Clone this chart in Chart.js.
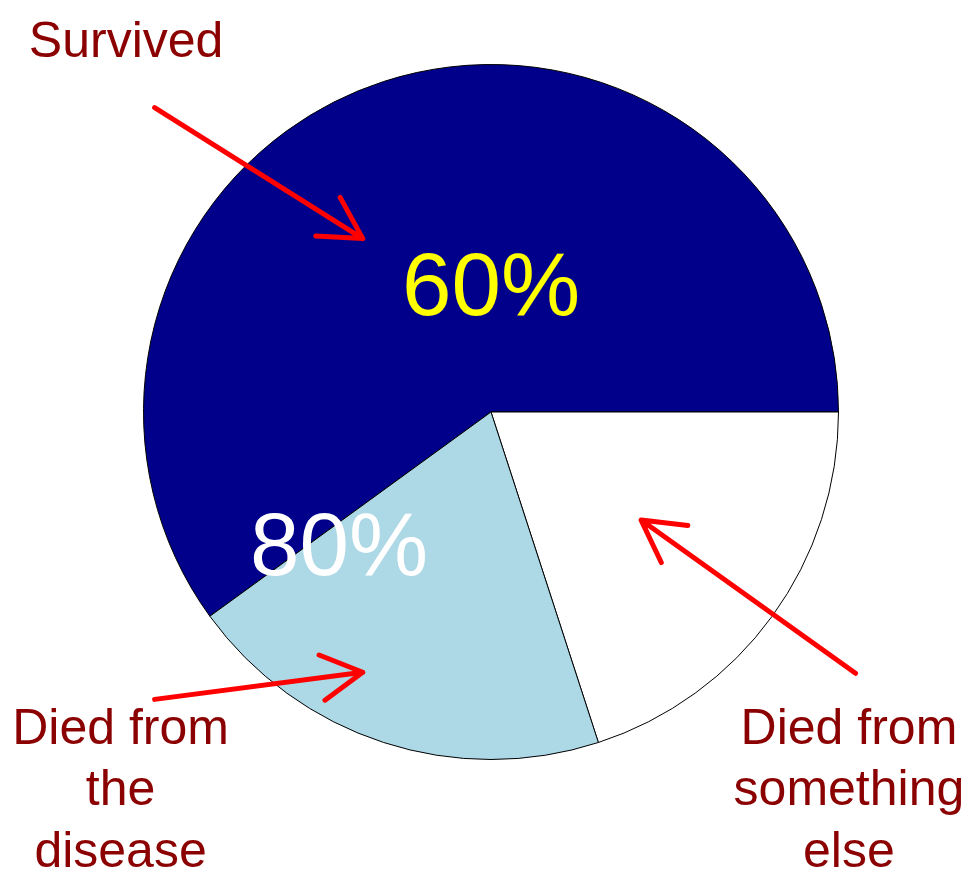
<!DOCTYPE html>
<html>
<head>
<meta charset="utf-8">
<script src="https://cdn.jsdelivr.net/npm/chart.js@4"></script>
<style>
  body { margin: 0; background: #fff; }
  #wrap { width: 966px; height: 870px; }
</style>
</head>
<body>
<div id="wrap"><canvas id="pie" width="966" height="870"></canvas></div>
<script>
// slice order runs clockwise, starting at the lower-left edge of "Survived"
const categories = ["Survived", "Died from something else", "Died from the disease"];
const shares = [60, 20, 20];
const percentTexts = ["60%", "80%"];
const calloutLines = [
  ["Survived"],
  ["Died from", "the", "disease"],
  ["Died from", "something", "else"]
];

const FONT = '"Liberation Sans", Arial, sans-serif';

// positions given relative to the pie centre, in units of the radius
const layout = {
  callouts: [
    { x: -1.05, y: -1.023 },
    { x: -1.066, y: 0.954 },
    { x: 1.03, y: 0.954 }
  ],
  lineStep: 0.177,
  percents: [
    { x: 0, y: -0.28, color: "#ffff00" },
    { x: -0.437, y: 0.47, color: "#ffffff" }
  ],
  arrows: [
    { from: [-0.968, -0.876], to: [-0.369, -0.499] },
    { from: [-0.968, 0.827], to: [-0.369, 0.749] },
    { from: [1.049, 0.752], to: [0.432, 0.311] }
  ]
};

function drawArrow(ctx, x1, y1, x2, y2) {
  const ang = Math.atan2(y2 - y1, x2 - x1);
  const head = 47, spread = Math.PI / 6.2;
  ctx.beginPath();
  ctx.moveTo(x1, y1);
  ctx.lineTo(x2, y2);
  ctx.moveTo(x2 - head * Math.cos(ang - spread), y2 - head * Math.sin(ang - spread));
  ctx.lineTo(x2, y2);
  ctx.lineTo(x2 - head * Math.cos(ang + spread), y2 - head * Math.sin(ang + spread));
  ctx.stroke();
}

const annotations = {
  id: "annotations",
  afterDraw(chart) {
    const arc = chart.getDatasetMeta(0).data[0];
    const cx = arc.x, cy = arc.y, R = arc.outerRadius;
    const ctx = chart.ctx;
    ctx.save();
    ctx.textAlign = "center";
    ctx.textBaseline = "alphabetic";

    // big percentage figures
    ctx.font = "89px " + FONT;
    percentTexts.forEach((t, i) => {
      const p = layout.percents[i];
      ctx.fillStyle = p.color;
      ctx.fillText(t, cx + p.x * R, cy + p.y * R);
    });

    // callout text
    ctx.fillStyle = "#8b0000";
    ctx.font = "50px " + FONT;
    calloutLines.forEach((lines, i) => {
      const p = layout.callouts[i];
      lines.forEach((line, j) => {
        ctx.fillText(line, cx + p.x * R, cy + (p.y + j * layout.lineStep) * R);
      });
    });

    // red arrows
    ctx.strokeStyle = "#ff0000";
    ctx.lineWidth = 5;
    ctx.lineCap = "round";
    ctx.lineJoin = "round";
    layout.arrows.forEach(a => {
      drawArrow(ctx,
        cx + a.from[0] * R, cy + a.from[1] * R,
        cx + a.to[0] * R, cy + a.to[1] * R);
    });
    ctx.restore();
  }
};

new Chart(document.getElementById("pie"), {
  type: "pie",
  data: {
    labels: categories,
    datasets: [{
      data: shares,
      backgroundColor: ["#00008b", "#ffffff", "#add8e6"],
      borderColor: "#000000",
      borderWidth: 1,
      borderAlign: "center"
    }]
  },
  options: {
    responsive: false,
    animation: false,
    rotation: 234,
    layout: { padding: { left: 143, right: 127, top: 64, bottom: 110 } },
    plugins: {
      legend: { display: false },
      tooltip: { enabled: false }
    }
  },
  plugins: [annotations]
});
</script>
</body>
</html>
